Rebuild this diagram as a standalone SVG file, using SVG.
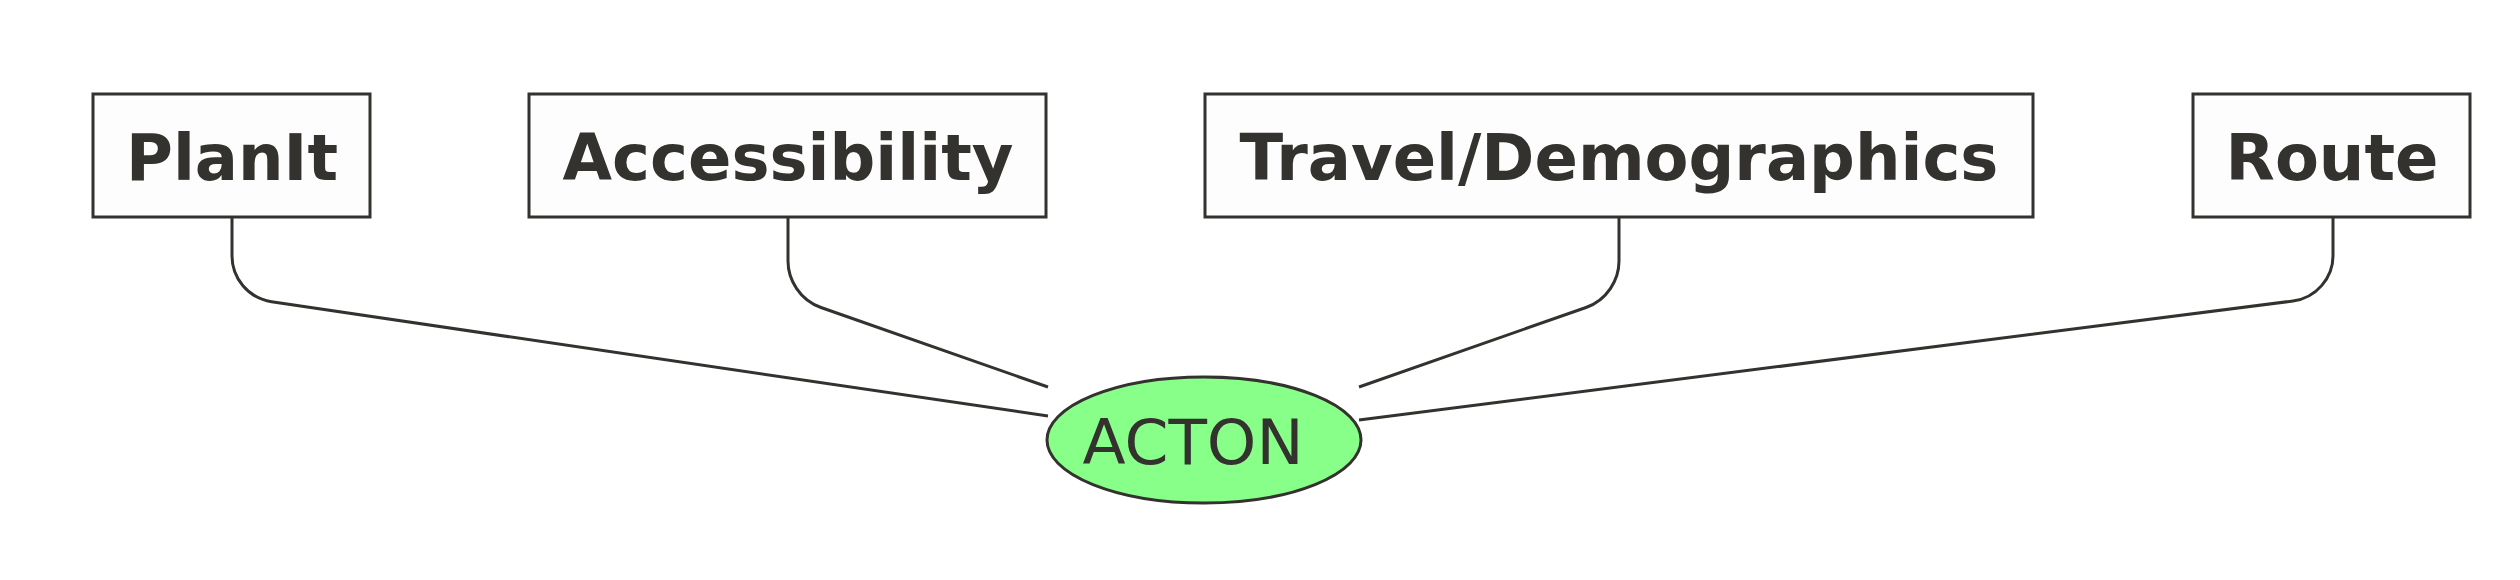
<svg xmlns="http://www.w3.org/2000/svg" width="2520" height="580" viewBox="0 0 2520 580">
<style>
.box{fill:#fdfdfd;stroke:#33322e;stroke-width:3}
.lbl{font-family:"DejaVu Sans",sans-serif;font-weight:bold;font-size:64px;fill:#33322e;text-anchor:middle}
.conn{fill:none;stroke:#33322e;stroke-width:3;stroke-linejoin:round}
.ell{fill:#88ff88;stroke:#33322e;stroke-width:3}
.el{font-family:"DejaVu Sans",sans-serif;font-size:63px;fill:#33322e;text-anchor:middle}
</style>
<rect width="2520" height="580" fill="#ffffff"/>
<g id="connectors">
<path class="conn" d="M232,217 V256 C232,278 248,298 271.6,301.8 L1048,416"/>
<path class="conn" d="M788,217 V261 C788,280 800,300 821,307.5 L1048,387"/>
<path class="conn" d="M1619,217 V261 C1619,280 1607,300 1586,307.5 L1359,387"/>
<path class="conn" d="M2333,217 V256 C2333,278 2316,298 2293,301 L1359,420"/>
</g>
<g id="planit">
<rect class="box" x="93" y="94" width="277" height="123"/>
<text class="lbl" x="232" y="180">PlanIt</text>
</g>
<g id="accessibility">
<rect class="box" x="529" y="94" width="517" height="123"/>
<text class="lbl" x="788" y="180">Accessibility</text>
</g>
<g id="travel">
<rect class="box" x="1205" y="94" width="828" height="123"/>
<text class="lbl" x="1619" y="180">Travel/Demographics</text>
</g>
<g id="route">
<rect class="box" x="2193" y="94" width="277" height="123"/>
<text class="lbl" x="2332" y="180">Route</text>
</g>
<g id="acton">
<ellipse class="ell" cx="1204" cy="440" rx="157" ry="63"/>
<text class="el" x="1193" y="464">ACTON</text>
</g>
</svg>
